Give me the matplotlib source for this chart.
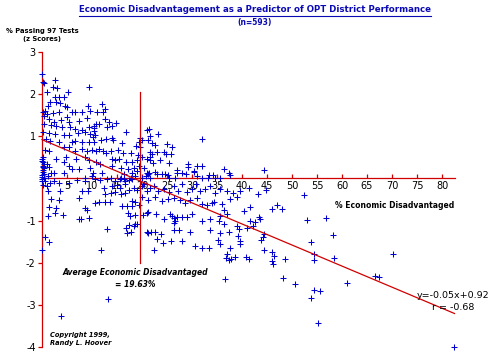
import matplotlib
matplotlib.use('Agg')
import matplotlib.pyplot as plt
from matplotlib.lines import Line2D

# districts: (% economic disadvantaged, % passing 97 tests as z score)
pts_low_pos = [
    (0.0, 2.48), (0.1, 2.30), (2.5, 2.33), (2.1, 2.17), (2.9, 2.14), (9.3, 2.17), (0.9, 2.06),
    (2.5, 1.93), (3.4, 1.93), (4.3, 1.94), (5.1, 2.05), (1.6, 1.81), (2.7, 1.82), (3.6, 1.79),
    (1.1, 1.73), (4.5, 1.73), (5.0, 1.70), (9.1, 1.71), (0.1, 1.57), (0.6, 1.61), (0.9, 1.53),
    (2.1, 1.55), (3.3, 1.57), (0.3, 1.49), (5.9, 1.57), (6.6, 1.58), (7.9, 1.57), (9.6, 1.61),
    (1.3, 1.41), (2.3, 1.33), (3.8, 1.39), (4.9, 1.45), (5.3, 1.35), (7.3, 1.37), (8.9, 1.43),
    (0.3, 1.29), (1.8, 1.27), (2.7, 1.24), (3.9, 1.21), (5.6, 1.21), (6.5, 1.17), (7.9, 1.14),
    (9.3, 1.21), (10.3, 1.19), (0.1, 1.10), (1.3, 1.08), (2.5, 1.05), (4.3, 1.03), (5.3, 1.02),
    (7.1, 1.08), (8.6, 1.10), (9.6, 1.05), (10.1, 0.98), (0.7, 0.94), (1.6, 0.90), (3.3, 0.87),
    (5.9, 0.86), (6.6, 0.90), (7.9, 0.86), (9.3, 0.87), (4.3, 0.74), (5.3, 0.74), (6.5, 0.66),
    (0.6, 0.68), (1.3, 0.66), (7.9, 0.70), (8.9, 0.66), (9.9, 0.68), (0.0, 0.46), (0.1, 0.38),
    (0.2, 0.30), (0.3, 0.24), (0.1, 0.19), (0.0, 0.07), (0.3, 0.02), (2.7, 0.46), (4.7, 0.50),
    (6.7, 0.46), (8.5, 0.50), (9.3, 0.44), (4.3, 0.38), (5.3, 0.30), (2.3, 0.14), (4.3, 0.14),
    (5.9, 0.22), (7.4, 0.22), (9.6, 0.24), (0.9, 0.34), (1.3, 0.28), (8.6, 0.02), (9.9, 0.06),
    (0.3, 2.27), (0.2, 0.52), (0.0, 0.42), (0.3, 0.35), (0.1, 0.27), (0.2, 0.16), (0.4, 0.10),
    (0.0, 0.04), (1.2, 0.05), (1.8, 0.12),
]

pts_mid_pos = [
    (12.0, 1.77), (11.0, 1.57), (12.1, 1.58), (12.5, 1.64), (12.5, 1.41), (13.3, 1.35),
    (10.3, 1.25), (10.8, 1.29), (11.3, 1.29), (13.0, 1.21), (13.9, 1.25), (14.7, 1.31),
    (10.3, 1.13), (10.5, 1.03), (16.8, 1.10), (21.3, 1.17), (11.7, 0.92), (12.8, 0.94),
    (13.9, 0.95), (14.1, 0.92), (16.0, 0.85), (19.3, 0.87), (20.0, 0.92), (21.2, 0.92),
    (10.3, 0.86), (11.3, 0.71), (10.7, 0.66), (15.2, 0.68), (18.7, 0.78), (19.5, 0.74),
    (12.1, 0.64), (12.7, 0.60), (13.7, 0.66), (16.1, 0.60), (17.7, 0.60), (19.2, 0.55),
    (19.9, 0.52), (21.5, 0.50), (13.9, 0.46), (14.5, 0.44), (15.3, 0.46), (16.7, 0.38),
    (17.9, 0.38), (19.0, 0.44), (21.0, 0.46), (10.7, 0.38), (11.5, 0.34), (14.0, 0.30),
    (15.7, 0.24), (17.2, 0.22), (18.3, 0.24), (19.3, 0.30), (20.3, 0.24), (21.3, 0.14),
    (12.0, 0.14), (16.3, 0.10), (18.0, 0.14), (18.5, 0.06), (10.2, 0.14), (19.0, 0.18),
    (20.0, 0.02), (20.8, 0.06), (21.5, 0.02), (17.7, 0.02), (15.7, 0.01), (13.7, 0.01),
    (20.9, 1.14), (19.6, 0.95),
]

pts_high_pos = [
    (23.1, 1.05), (21.5, 1.00), (31.9, 0.94), (22.0, 0.83), (22.5, 0.79), (25.0, 0.81),
    (25.9, 0.75), (21.5, 0.63), (22.0, 0.59), (22.9, 0.63), (24.3, 0.63), (24.7, 0.57),
    (25.7, 0.59), (21.5, 0.43), (22.2, 0.36), (23.5, 0.43), (25.3, 0.36), (29.1, 0.35),
    (29.1, 0.27), (30.9, 0.29), (31.9, 0.29), (36.4, 0.23), (37.5, 0.09), (21.2, 0.11),
    (22.9, 0.11), (23.9, 0.11), (25.1, 0.07), (26.9, 0.19), (28.0, 0.13), (28.7, 0.10),
    (30.4, 0.15), (30.9, 0.05), (34.2, 0.09), (34.5, 0.02), (33.2, 0.02), (35.5, 0.00),
    (25.3, 0.01), (26.5, 0.01), (31.9, 0.01), (20.9, 0.12), (22.6, 0.15), (24.6, 0.11),
    (27.0, 0.13), (30.3, 0.17), (33.3, 0.09), (37.3, 0.13), (44.3, 0.20),
]

pts_low_neg = [
    (0.0, -0.02), (0.0, -0.07), (0.1, -0.15), (0.6, -0.05), (1.6, -0.10), (2.3, -0.05),
    (3.3, -0.11), (5.3, -0.11), (6.9, -0.03), (8.6, -0.05), (10.5, -0.01), (11.6, -0.03),
    (12.9, -0.01), (14.5, -0.05), (15.5, -0.02), (16.3, -0.01), (16.6, -0.07), (17.3, -0.03),
    (17.9, -0.01), (0.9, -0.19), (1.1, -0.29), (3.6, -0.29), (7.9, -0.29), (9.1, -0.29),
    (12.3, -0.23), (13.9, -0.19), (14.9, -0.15), (15.6, -0.23), (16.5, -0.13), (12.6, -0.36),
    (13.8, -0.35), (14.6, -0.33), (15.8, -0.36), (16.6, -0.35), (17.4, -0.27), (18.3, -0.23),
    (18.9, -0.27), (19.9, -0.19), (20.9, -0.31), (7.3, -0.47), (1.8, -0.49), (3.4, -0.51),
    (10.6, -0.59), (11.3, -0.57), (12.6, -0.55), (13.6, -0.57), (17.9, -0.54), (18.6, -0.57),
    (19.3, -0.63), (15.9, -0.65), (16.9, -0.65), (17.9, -0.65), (1.3, -0.67), (2.7, -0.71),
    (8.6, -0.71), (8.9, -0.76), (2.5, -0.81), (4.1, -0.86), (1.1, -0.90), (17.1, -0.81),
    (17.6, -0.89), (18.6, -0.87), (20.1, -0.87), (21.1, -0.79), (7.3, -0.97), (7.7, -0.97),
    (9.4, -0.94), (17.3, -1.10), (18.5, -1.08), (16.7, -1.18), (12.9, -1.20), (21.1, -1.30),
    (0.6, -1.40), (1.3, -1.50), (0.0, -1.71), (11.8, -1.71), (17.0, -1.30), (17.7, -1.28),
    (18.3, -1.12), (19.0, -1.08), (21.7, -1.28), (13.1, -2.86), (3.7, -3.26),
]

pts_high_neg = [
    (20.4, -0.14), (21.5, -0.22), (22.3, -0.19), (23.1, -0.29), (24.4, -0.25), (25.3, -0.33),
    (26.3, -0.19), (27.1, -0.30), (27.9, -0.13), (28.9, -0.33), (29.9, -0.25), (30.8, -0.14),
    (31.5, -0.30), (32.6, -0.25), (33.6, -0.17), (34.6, -0.35), (35.6, -0.25), (36.9, -0.30),
    (38.1, -0.35), (39.6, -0.29), (41.3, -0.22), (43.1, -0.37), (44.8, -0.27), (46.9, -0.63),
    (47.9, -0.72), (45.9, -0.72), (19.9, -0.44), (21.1, -0.51), (22.6, -0.43), (23.9, -0.54),
    (25.1, -0.48), (26.3, -0.46), (27.5, -0.51), (28.6, -0.59), (29.6, -0.52), (30.9, -0.46),
    (31.9, -0.60), (32.9, -0.64), (33.9, -0.59), (34.4, -0.56), (35.9, -0.60), (36.4, -0.75),
    (37.6, -0.48), (38.9, -0.44), (40.3, -0.78), (41.6, -0.68), (43.5, -0.96), (42.6, -1.04),
    (20.9, -0.83), (22.8, -0.84), (24.3, -0.96), (25.5, -0.84), (25.9, -0.88), (26.3, -0.94),
    (26.5, -1.00), (26.3, -1.06), (26.9, -0.92), (27.9, -0.92), (28.9, -0.92), (29.9, -0.84),
    (31.9, -1.00), (33.6, -0.96), (35.3, -1.00), (35.6, -0.88), (36.3, -1.08), (36.9, -0.84),
    (38.9, -1.14), (39.3, -1.20), (41.6, -1.02), (42.1, -1.14), (43.3, -0.92), (44.4, -1.32),
    (20.9, -1.28), (22.6, -1.28), (23.7, -1.33), (26.3, -1.22), (27.3, -1.22), (29.6, -1.28),
    (33.6, -1.22), (35.6, -1.30), (37.3, -1.28), (39.1, -1.36), (40.9, -1.18), (39.6, -1.48),
    (22.9, -1.44), (24.1, -1.54), (25.7, -1.48), (27.9, -1.49), (30.6, -1.60), (31.9, -1.65),
    (33.3, -1.65), (35.1, -1.46), (35.6, -1.56), (37.6, -1.65), (39.5, -1.56), (44.1, -1.38),
    (43.7, -1.46), (22.3, -1.70), (36.9, -1.79), (36.8, -1.89), (37.3, -1.94), (37.7, -1.91),
    (38.6, -1.86), (40.8, -1.86), (41.3, -1.91), (44.3, -1.70), (45.9, -1.75), (46.3, -1.83),
    (45.9, -1.95), (46.1, -2.03), (48.6, -1.91), (36.6, -2.39), (48.1, -2.37),
]

pts_far = [
    (52.4, -0.40), (52.9, -0.98), (56.7, -0.94), (58.1, -1.34), (53.7, -1.50), (54.3, -1.93),
    (54.4, -1.79), (58.3, -1.89), (70.1, -1.79), (50.6, -2.51), (60.9, -2.48), (66.5, -2.31),
    (67.3, -2.35), (54.4, -2.65), (55.5, -2.67), (53.7, -2.84), (55.2, -3.43), (82.3, -4.00),
]

avg_disadv = 19.63
slope = -0.05
intercept = 0.92
r_value = -0.68
n_districts = 593

x_ticks = [5, 10, 15, 20, 25, 30, 35, 40, 45, 50, 55, 60, 65, 70, 75, 80]
y_ticks = [-4, -3, -2, -1, 1, 2, 3]

blue = '#0000d0'
red = '#d00000'
title_blue = '#0a0ab4'

plt.rcParams['font.family'] = ['DejaVu Sans']

fig = plt.figure(figsize=(4.92, 3.54), dpi=100)
ax = fig.add_axes([42 / 492, 7 / 354, 413 / 492, 295 / 354])
ax.set_xlim(0, 82.6)
ax.set_ylim(-4, 3)

all_pts = pts_low_pos + pts_mid_pos + pts_high_pos + pts_low_neg + pts_high_neg + pts_far
xs = [p[0] for p in all_pts]
ys = [p[1] for p in all_pts]
ax.plot(xs, ys, '+', color=blue, markersize=5, mew=0.75, clip_on=False, zorder=4)

# regression line and average marker
ax.plot([0, 82.5], [intercept, intercept + slope * 82.5], color=red, lw=0.9, zorder=5,
        clip_on=False)
ax.plot([avg_disadv, avg_disadv], [2.05, -2.0], color=red, lw=0.9, zorder=5)

for s in ['top', 'right']:
    ax.spines[s].set_visible(False)
ax.spines['bottom'].set_position(('data', 0))
for s in ['left', 'bottom']:
    ax.spines[s].set_color(red)
    ax.spines[s].set_linewidth(0.9)

ax.set_xticks(x_ticks)
ax.set_yticks(y_ticks)
ax.set_yticklabels([str(v) for v in y_ticks])
ax.tick_params(axis='x', direction='in', length=3, width=0.9, color=red, pad=2,
               labelsize=7)
ax.tick_params(axis='y', direction='out', length=3, width=0.9, color=red, pad=1.5,
               labelsize=7)

title = fig.text(255 / 492, 1 - 10 / 354, 'Economic Disadvantagement as a Predictor of OPT District Performance',
                 ha='center', va='center', fontsize=6.2, fontweight='bold', color=title_blue)
fig.text(255 / 492, 1 - 23 / 354, '(n=%d)' % n_districts, ha='center', va='center',
         fontsize=5.5, fontweight='bold', color=title_blue)
fig.text(42 / 492, 1 - 34.5 / 354, '% Passing 97 Tests\n(z Scores)', ha='center', va='center',
         multialignment='center', fontsize=4.9, fontweight='bold', linespacing=1.4)
fig.text(454 / 492, 1 - 205 / 354, '% Economic Disadvantaged', ha='right', va='center',
         fontsize=5.5, fontweight='bold')
fig.text(135 / 492, 1 - 278.5 / 354, 'Average Economic Disadvantaged\n= %.2f%%' % avg_disadv,
         ha='center', va='center', multialignment='center', fontsize=5.5,
         fontweight='bold', style='italic', linespacing=1.3)
fig.text(50 / 492, 1 - 339 / 354, 'Copyright 1999,\nRandy L. Hoover', ha='left', va='center',
         fontsize=4.8, fontweight='bold', style='italic', linespacing=1.45)
fig.text(489 / 492, 1 - 296 / 354, 'y=%.2fx+%.2f' % (slope, intercept), ha='right',
         va='center', fontsize=6.8)
fig.text(453 / 492, 1 - 307 / 354, 'r = %.2f' % r_value, ha='center', va='center',
         fontsize=6.8)

# underline the title
fig.canvas.draw()
bb = title.get_window_extent().transformed(fig.transFigure.inverted())
fig.add_artist(Line2D([bb.x0, bb.x1], [bb.y0 - 0.004, bb.y0 - 0.004],
                      transform=fig.transFigure, color=title_blue, lw=0.8))

fig.savefig('out.png', dpi=100)
